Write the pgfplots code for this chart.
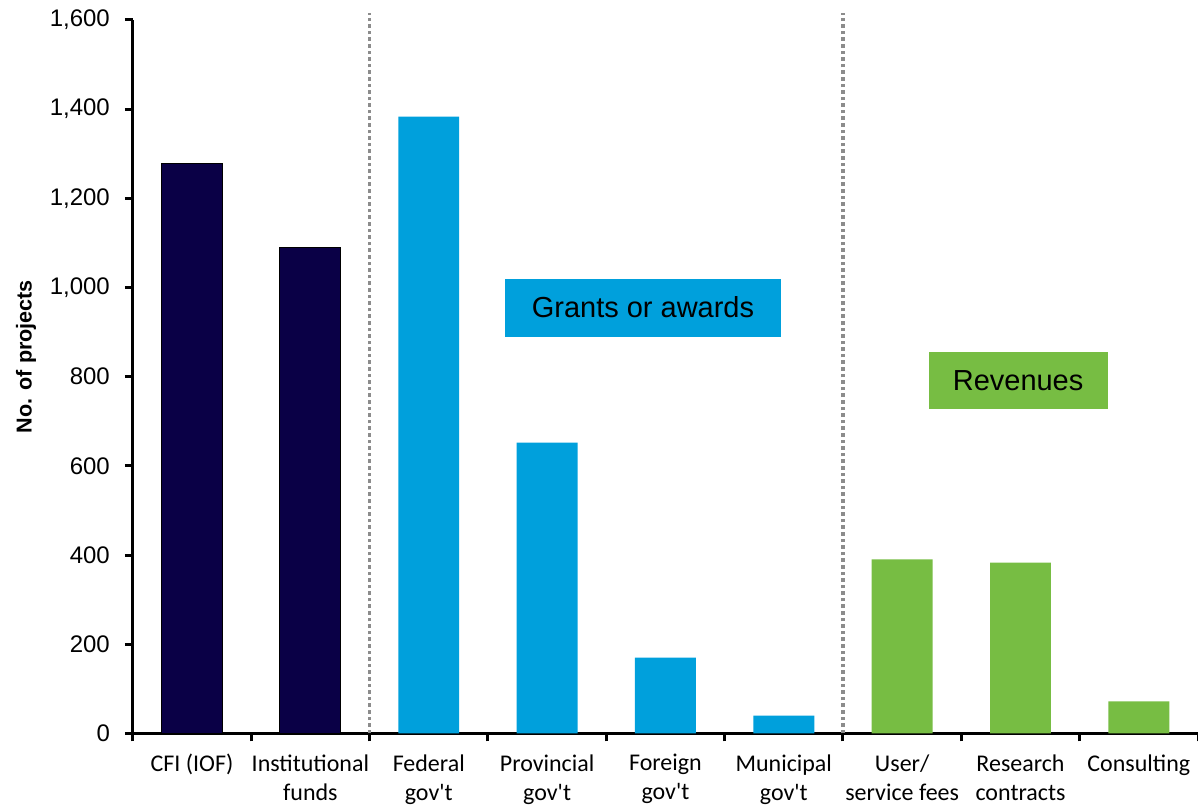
\documentclass[border=0pt]{standalone}
\usepackage{fontspec}
\setmainfont{Liberation Sans}
\newfontfamily\carlito{Carlito}
\usepackage{pgfplots}
\pgfplotsset{compat=1.18}
\usetikzlibrary{calc}

\definecolor{navy}{RGB}{10,0,70}
\definecolor{grantblue}{RGB}{0,160,220}
\definecolor{revgreen}{RGB}{119,189,67}
\definecolor{divgray}{RGB}{140,140,140}

\begin{document}
\begin{tikzpicture}
\begin{axis}[
  scale only axis,
  width=533pt, height=357pt,
  xmin=-0.5, xmax=8.5,
  ymin=0, ymax=1600,
  axis x line*=bottom,
  axis y line*=left,
  axis line style={line width=1.5pt, black},
  every tick/.style={line width=1.5pt, black},
  tick align=outside,
  major tick length=4pt,
  xtick={-0.5,0.5,...,8.5},
  x tick label as interval=true,
  xticklabels={CFI (IOF),Institutional\\funds,Federal\\gov\textquotesingle t,Provincial\\gov\textquotesingle t,Foreign\\gov\textquotesingle t,Municipal\\gov\textquotesingle t,User/\\service fees,Research\\contracts,Consulting},
  xticklabel style={font=\carlito\fontsize{12}{14.5}\selectfont, align=center, anchor=north, yshift=-3pt},
  ytick={0,200,...,1600},
  yticklabel style={font=\fontsize{12}{14}\selectfont, xshift=-4pt},
  /pgf/number format/assume math mode=true,
  /pgf/number format/1000 sep={,},
  ylabel={\bfseries No. of projects},
  ylabel style={font=\fontsize{10.8}{12}\selectfont, at={(ticklabel cs:0.552)}, xshift=-8.5pt},
  ybar, bar width=30.5pt, bar shift=0pt,
  clip=false,
]
% own / institutional funding
\addplot[fill=navy, draw=black, line width=0.5pt] coordinates {(0,1277) (1,1089)};
% grants or awards
\addplot[fill=grantblue, draw=none] coordinates {(2,1383) (3,652) (4,170) (5,40)};
% revenues
\addplot[fill=revgreen, draw=none] coordinates {(6,390) (7,383) (8,72)};

% group dividers
\draw[divgray, line width=1.8pt, dash pattern=on 1.8pt off 1.5pt] (axis cs:1.5,0) -- (axis cs:1.5,1615);
\draw[divgray, line width=1.8pt, dash pattern=on 1.8pt off 1.5pt] (axis cs:5.5,0) -- (axis cs:5.5,1615);

% group labels
\node[fill=grantblue, minimum width=138pt, minimum height=29pt, inner sep=0pt,
      font=\fontsize{14.5}{16}\selectfont] at (axis cs:3.81,955) {Grants or awards};
\node[fill=revgreen, minimum width=89.5pt, minimum height=28.5pt, inner sep=0pt,
      font=\fontsize{14.5}{16}\selectfont] at (axis cs:6.98,791) {Revenues};
\end{axis}
\pgfresetboundingbox
\path[use as bounding box] ($(current axis.south west)+(-66.5pt,-36pt)$) rectangle ($(current axis.north east)+(0pt,10pt)$);
\end{tikzpicture}
\end{document}
